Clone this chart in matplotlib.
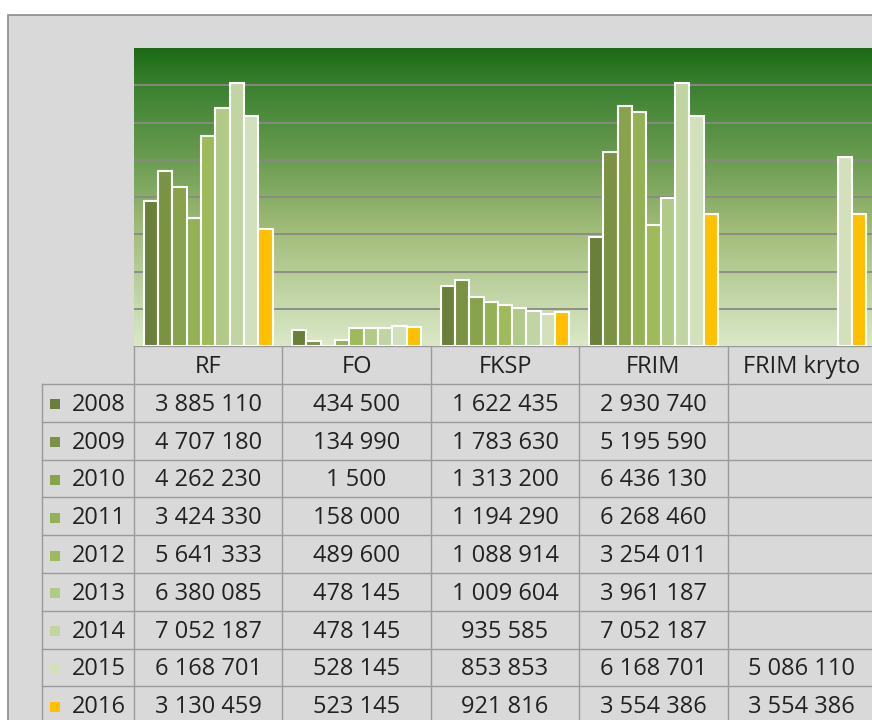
import numpy as np
import matplotlib
matplotlib.use("Agg")
import matplotlib.pyplot as plt
from matplotlib.colors import LinearSegmentedColormap
from matplotlib.patches import Rectangle

plt.rcParams['font.family'] = ['Open Sans', 'DejaVu Sans']

# data (values in CZK)
categories = ["RF", "FO", "FKSP", "FRIM", "FRIM kryto"]
years = ["2008", "2009", "2010", "2011", "2012", "2013", "2014", "2015", "2016"]
rf = [3885110, 4707180, 4262230, 3424330, 5641333, 6380085, 7052187, 6168701, 3130459]
fo = [434500, 134990, 1500, 158000, 489600, 478145, 478145, 528145, 523145]
fksp = [1622435, 1783630, 1313200, 1194290, 1088914, 1009604, 935585, 853853, 921816]
frim = [2930740, 5195590, 6436130, 6268460, 3254011, 3961187, 7052187, 6168701, 3554386]
frim_kryto = [None, None, None, None, None, None, None, 5086110, 3554386]

colors = ["#6a7f3a", "#7a9342", "#87a34b", "#93b255", "#9dbb5b",
          "#b0ca88", "#c1d5a2", "#d2e0bc", "#ffc000"]

W, H = 872, 720
fig = plt.figure(figsize=(W / 100, H / 100), dpi=100, facecolor="white")

# background + table layer in pixel coordinates
tax = fig.add_axes([0, 0, 1, 1])
tax.set_xlim(0, W)
tax.set_ylim(H, 0)
tax.axis("off")
tax.add_patch(Rectangle((8, 15), 900, 800, facecolor="#d9d9d9",
                        edgecolor="#8a8a8a", lw=1.2))

# plot area geometry (pixels)
px_left, px_right, px_top, px_bot = 134, 876, 48, 346
ax = fig.add_axes([px_left / W, 1 - px_bot / H,
                   (px_right - px_left) / W, (px_bot - px_top) / H])

series = np.array([rf, fo, fksp, frim, frim_kryto], dtype=float).T  # years x categories
n_cat = len(categories)
n_yr = len(years)

# green gradient background, dark at top
grad_cmap = LinearSegmentedColormap.from_list(
    "bg", [(0.0, "#1b6a16"), (0.13, "#3b8230"), (0.38, "#6c9d52"),
           (0.62, "#a3bd7b"), (0.87, "#c7daae"), (1.0, "#dbe8c8")])
grad = np.linspace(0, 1, 256).reshape(-1, 1)
ax.imshow(grad, aspect="auto", cmap=grad_cmap, extent=(0, n_cat, 0, 8e6),
          origin="upper", zorder=0)
ax.set_xlim(0, n_cat)
ax.set_ylim(0, 8e6)

for g in range(1, 8):
    ax.axhline(g * 1e6, color="#8a8a85", lw=1.3, zorder=1)

bw = 0.0965
x = np.arange(n_cat)
for i in range(n_yr):
    offs = x + 0.5 + (i - (n_yr - 1) / 2) * bw
    ax.bar(offs, series[i], width=bw, color=colors[i], edgecolor="white",
           lw=1.5, zorder=3)

ax.set_xticks([])
ax.set_yticks([])
for s in ax.spines.values():
    s.set_visible(False)

# data table
col_edges = [px_left + k * (px_right - px_left) / n_cat for k in range(n_cat + 1)]
row_h = 37.8
header_bot = 384
row_edges = [header_bot + k * row_h for k in range(n_yr + 1)]
line_c = "#9a9a9a"
txt_c = "#222222"
fs = 17

for xe in col_edges:
    tax.plot([xe, xe], [px_bot, H + 5], color=line_c, lw=1, zorder=2)
tax.plot([42, 42], [header_bot, H + 5], color=line_c, lw=1, zorder=2)
tax.plot([px_left, W + 5], [px_bot, px_bot], color=line_c, lw=1, zorder=2)
for ye in row_edges:
    tax.plot([42, W + 5], [ye, ye], color=line_c, lw=1, zorder=2)

for j, cat in enumerate(categories):
    cx = (col_edges[j] + col_edges[j + 1]) / 2
    tax.text(cx, (px_bot + header_bot) / 2 + 2, cat, ha="center", va="center",
             fontsize=fs, color=txt_c)

for i, yr in enumerate(years):
    cy = row_edges[i] + row_h / 2 + 2
    tax.add_patch(Rectangle((50, cy - 5.5), 10, 10, facecolor=colors[i],
                            edgecolor="none", zorder=3))
    tax.text(72, cy, yr, ha="left", va="center", fontsize=fs, color=txt_c)
    for j in range(n_cat):
        v = series[i, j]
        if np.isnan(v):
            continue
        cx = (col_edges[j] + col_edges[j + 1]) / 2
        tax.text(cx, cy, f"{int(v):,}".replace(",", " "), ha="center",
                 va="center", fontsize=fs, color=txt_c)

fig.savefig("out.png", dpi=100, facecolor="white")
